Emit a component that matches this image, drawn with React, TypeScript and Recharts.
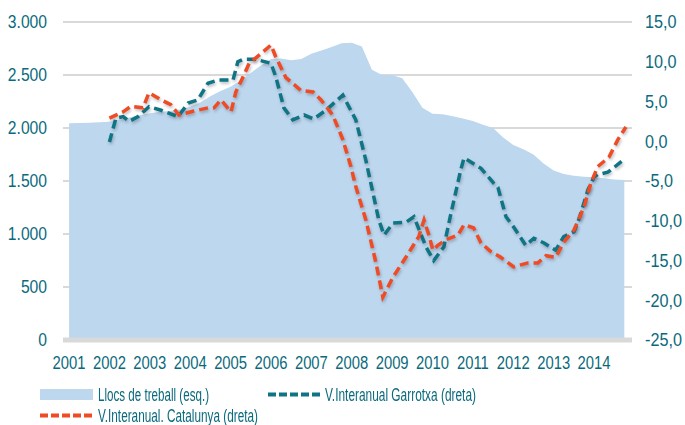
import React from 'react';
import { ComposedChart, Area, Line, XAxis, YAxis, CartesianGrid, Legend } from 'recharts';

const YEARS = [2001, 2002, 2003, 2004, 2005, 2006, 2007, 2008, 2009, 2010, 2011, 2012, 2013, 2014];
const LEFT_TICKS = [0, 500, 1000, 1500, 2000, 2500, 3000];
const RIGHT_TICKS = [-25, -20, -15, -10, -5, 0, 5, 10, 15];

// Llocs de treball (quarterly, 2001Q1 - 2014Q4)
const LLOCS = [
  2044, 2046, 2050, 2054, 2058, 2080, 2100, 2120, 2140, 2150, 2160, 2175,
  2200, 2240, 2300, 2350, 2390, 2450, 2520, 2590, 2650, 2655, 2640, 2650,
  2700, 2730, 2765, 2800, 2805, 2770, 2550, 2500, 2500, 2470, 2340, 2190,
  2135, 2130, 2110, 2090, 2065, 2030, 2000, 1910, 1840, 1800, 1750, 1665,
  1600, 1565, 1550, 1540, 1535, 1525, 1515, 1510,
];
const LLOCS_T = LLOCS.map((_, i) => 2001 + i / 4);

const GARROTXA_T = [
  2002.0, 2002.16, 2002.34, 2002.49, 2002.71, 2002.98, 2003.28, 2003.7, 2003.95, 2004.19,
  2004.44, 2004.69, 2005.06, 2005.18, 2005.31, 2005.63, 2006.0, 2006.12, 2006.32, 2006.54,
  2006.82, 2007.06, 2007.36, 2007.78, 2008.1, 2008.35, 2008.67, 2008.8, 2009.02, 2009.34,
  2009.54, 2009.84, 2010.03, 2010.28, 2010.46, 2010.7, 2010.78, 2011.2, 2011.52, 2011.62,
  2011.82, 2012.01, 2012.31, 2012.51, 2012.76, 2013.05, 2013.25, 2013.5, 2013.62, 2013.85,
  2014.0, 2014.09, 2014.34, 2014.47, 2014.71,
];
const GARROTXA = [
  -0.1, 2.9, 3.1, 2.5, 3.1, 4.35, 3.9, 3.1, 4.8, 5.2,
  7.3, 7.7, 7.7, 10.0, 10.3, 10.3, 9.8, 8.1, 4.2, 2.7,
  3.3, 2.8, 3.9, 5.8, 2.7, -2.4, -9.9, -11.8, -10.3, -10.2,
  -9.5, -13.3, -15.0, -13.3, -9.0, -3.6, -2.1, -3.4, -5.3, -5.8,
  -9.5, -10.8, -13.1, -12.2, -12.8, -13.7, -12.0, -11.4, -9.9, -6.1,
  -4.5, -4.2, -3.9, -3.4, -2.4,
];

const CATALUNYA_T = [
  2002.0, 2002.34, 2002.53, 2002.83, 2002.98, 2003.28, 2003.52, 2003.72, 2004.09, 2004.44,
  2004.59, 2004.76, 2005.01, 2005.13, 2005.31, 2005.46, 2005.7, 2006.0, 2006.12, 2006.37,
  2006.74, 2007.04, 2007.24, 2007.53, 2007.78, 2007.98, 2008.1, 2008.35, 2008.6, 2008.77,
  2009.02, 2009.34, 2009.66, 2009.79, 2009.91, 2010.01, 2010.13, 2010.33, 2010.63, 2010.78,
  2011.02, 2011.2, 2011.45, 2011.69, 2012.01, 2012.36, 2012.61, 2012.81, 2013.05, 2013.25,
  2013.5, 2013.75, 2013.92, 2014.09, 2014.37, 2014.59, 2014.79,
];
const CATALUNYA = [
  2.9, 3.7, 4.4, 4.2, 6.1, 5.2, 4.6, 3.3, 3.8, 4.2,
  4.2, 5.2, 3.7, 6.2, 8.1, 9.8, 10.8, 12.1, 10.6, 8.0,
  6.4, 6.2, 5.2, 3.3, 0.2, -3.2, -5.7, -9.9, -15.3, -19.6,
  -17.1, -14.6, -12.0, -9.9, -11.8, -13.7, -13.1, -12.4, -11.8, -10.5,
  -10.9, -12.8, -13.9, -14.6, -15.8, -15.3, -15.3, -14.4, -14.6, -12.7,
  -11.2, -8.3, -5.3, -3.2, -2.0, 0.2, 1.8,
];

const NAME_LLOCS = 'Llocs de treball (esq.)';
const NAME_GARROTXA = 'V.Interanual Garrotxa (dreta)';
const NAME_CATALUNYA = 'V.Interanual. Catalunya (dreta)';

const TEXT = '#0a6a7d';
const TEAL = '#0f7483';
const ORANGE = '#ef4b24';
const AREA = '#bdd7ee';
const GRID = '#d9d9d9';
const FONT = '"Liberation Sans", Arial, sans-serif';
const SHADOW = { filter: 'drop-shadow(1px 2px 1.5px rgba(60,70,90,0.35))' };

const llocsData = LLOCS_T.map((t, i) => ({ t, v: LLOCS[i] }));
const garrotxaData = GARROTXA_T.map((t, i) => ({ t, v: GARROTXA[i] }));
const catalunyaData = CATALUNYA_T.map((t, i) => ({ t, v: CATALUNYA[i] }));

const fmtLeft = (v: number) => (v >= 1000 ? `${Math.floor(v / 1000)}.${String(v % 1000).padStart(3, '0')}` : String(v));
const fmtRight = (v: number) => v.toFixed(1).replace('.', ',');

const LeftTick = (p: any) => (
  <g transform={`translate(${p.x},${p.y})`}>
    <text transform="scale(0.87,1)" textAnchor="end" dy="0.36em" fontSize={18} fontFamily={FONT} fill={TEXT}>
      {fmtLeft(p.payload.value)}
    </text>
  </g>
);
const RightTick = (p: any) => (
  <g transform={`translate(${p.x},${p.y})`}>
    <text transform="scale(0.9,1)" textAnchor="start" dy="0.36em" fontSize={18} fontFamily={FONT} fill={TEXT}>
      {fmtRight(p.payload.value)}
    </text>
  </g>
);
const XTick = (p: any) => (
  <g transform={`translate(${p.x},${p.y + 14})`}>
    <text transform="scale(0.78,1)" textAnchor="middle" dy="0.36em" fontSize={19} fontFamily={FONT} fill={TEXT}>
      {p.payload.value}
    </text>
  </g>
);

const LegendContent = () => (
  <svg width={685} height={55} style={{ display: 'block', overflow: 'visible' }}>
    <rect x={40} y={19} width={53} height={11} fill={AREA} />
    <text x={98} y={25} dy="0.36em" fontSize={17.5} fontFamily={FONT} fill={TEXT} textLength={111} lengthAdjust="spacingAndGlyphs">
      {NAME_LLOCS}
    </text>
    <line x1={268} x2={321} y1={24.5} y2={24.5} stroke={TEAL} strokeWidth={4} strokeDasharray="8 3" />
    <text x={325} y={25} dy="0.36em" fontSize={17.5} fontFamily={FONT} fill={TEXT} textLength={151} lengthAdjust="spacingAndGlyphs">
      {NAME_GARROTXA}
    </text>
    <line x1={40} x2={93} y1={45.5} y2={45.5} stroke={ORANGE} strokeWidth={4} strokeDasharray="8 3" />
    <text x={98} y={46} dy="0.36em" fontSize={17.5} fontFamily={FONT} fill={TEXT} textLength={160} lengthAdjust="spacingAndGlyphs">
      {NAME_CATALUNYA}
    </text>
  </svg>
);

export default function App() {
  return (
    <div style={{ position: 'fixed', left: 0, top: 0, width: 685, height: 425, background: '#fff' }}>
      <ComposedChart width={685} height={425} margin={{ top: 22, right: 5, bottom: 5, left: 8 }}>
        <CartesianGrid yAxisId="left" vertical={false} stroke={GRID} strokeWidth={2} />
        <XAxis
          type="number"
          dataKey="t"
          domain={[2000.85, 2014.94]}
          ticks={YEARS}
          allowDataOverflow
          height={30}
          tickSize={0}
          tickMargin={8}
          axisLine={{ stroke: GRID, strokeWidth: 5 }}
          tickLine={false}
          tick={<XTick />}
        />
        <YAxis
          yAxisId="left"
          domain={[0, 3000]}
          ticks={LEFT_TICKS}
          width={55}
          tickSize={0}
          tickMargin={16}
          axisLine={false}
          tickLine={false}
          tick={<LeftTick />}
        />
        <YAxis
          yAxisId="right"
          orientation="right"
          domain={[-25, 15]}
          ticks={RIGHT_TICKS}
          width={48}
          tickSize={0}
          tickMargin={13}
          axisLine={false}
          tickLine={false}
          tick={<RightTick />}
        />
        <Area
          yAxisId="left"
          data={llocsData}
          dataKey="v"
          name={NAME_LLOCS}
          type="linear"
          fill={AREA}
          fillOpacity={1}
          stroke="none"
          isAnimationActive={false}
        />
        <Line
          yAxisId="right"
          data={garrotxaData}
          dataKey="v"
          name={NAME_GARROTXA}
          type="linear"
          stroke={TEAL}
          strokeWidth={3.5}
          strokeDasharray="9 5"
          dot={false}
          style={SHADOW}
          isAnimationActive={false}
        />
        <Line
          yAxisId="right"
          data={catalunyaData}
          dataKey="v"
          name={NAME_CATALUNYA}
          type="linear"
          stroke={ORANGE}
          strokeWidth={3.5}
          strokeDasharray="9 5"
          dot={false}
          style={SHADOW}
          isAnimationActive={false}
        />
        <Legend verticalAlign="bottom" height={50} content={<LegendContent />} wrapperStyle={{ left: 0, width: 685, overflow: 'visible' }} />
      </ComposedChart>
    </div>
  );
}
